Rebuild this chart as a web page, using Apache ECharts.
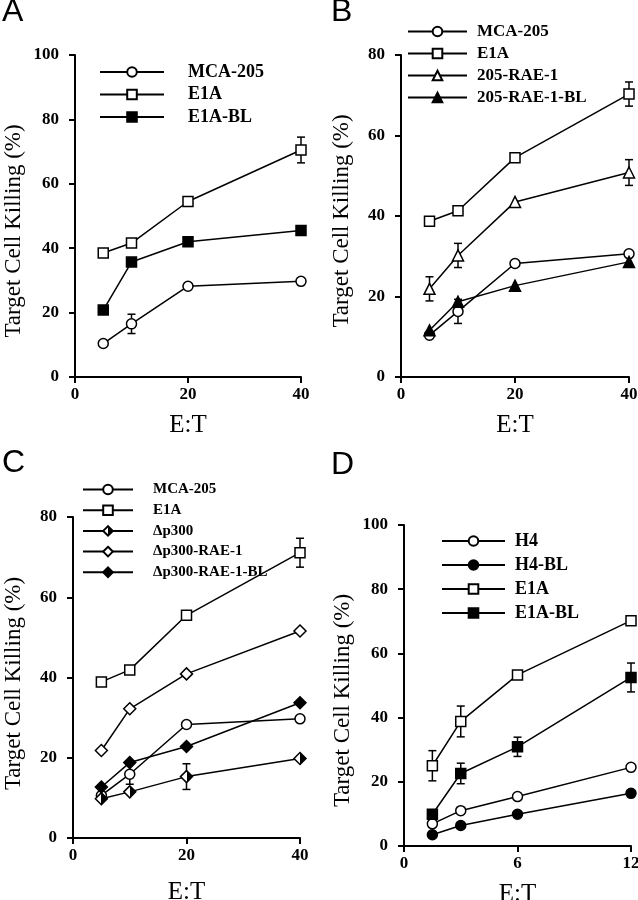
<!DOCTYPE html>
<html><head><meta charset="utf-8">
<script src="https://cdn.jsdelivr.net/npm/echarts@6/dist/echarts.min.js"></script>
<style>html,body{margin:0;padding:0;background:#fff}#c{width:638px;height:900px}</style>
</head><body><div id="c"></div>
<script>
// ---- Data ----
const etABC = [5, 10, 20, 40];
const etD = [1.5, 3, 6, 12];
const xTicksABC = [0, 20, 40];
const xTicksD = [0, 6, 12];

// Panel A
const a_mca = [10.4, 16.5, 28.2, 29.7];
const a_mca_err = [0, 3, 0, 0];
const a_e1a = [38.5, 41.6, 54.5, 70.5];
const a_e1a_err = [0, 0, 0, 4];
const a_e1abl = [20.8, 35.7, 42.0, 45.5];

// Panel B
const b_mca = [10.4, 16.3, 28.2, 30.6];
const b_mca_err = [0, 3, 0, 0];
const b_e1a = [38.7, 41.3, 54.5, 70.3];
const b_e1a_err = [0, 0, 0, 3];
const b_rae = [21.9, 30.2, 43.5, 50.8];
const b_rae_err = [3, 3, 0, 3.2];
const b_raebl = [11.6, 18.7, 22.7, 28.6];

// Panel C
const c_mca = [10.6, 15.9, 28.3, 29.7];
const c_mca_err = [0, 2.5, 0, 0];
const c_e1a = [38.9, 41.9, 55.5, 71.1];
const c_e1a_err = [0, 0, 0, 3.6];
const c_dp = [9.8, 11.5, 15.3, 19.8];
const c_dp_err = [0, 0, 3.2, 0];
const c_dprae = [21.8, 32.2, 40.9, 51.6];
const c_dpraebl = [12.7, 18.8, 22.8, 33.7];

// Panel D
const d_h4 = [6.9, 11.0, 15.4, 24.5];
const d_h4bl = [3.5, 6.4, 9.9, 16.4];
const d_e1a = [25.0, 38.8, 53.3, 70.2];
const d_e1a_err = [4.7, 4.8, 0, 0];
const d_e1abl = [9.9, 22.6, 30.9, 52.5];
const d_e1abl_err = [0, 3.2, 3.0, 4.5];

// ---- Styles ----
const halfFill = {type:'linear', x:0, y:0, x2:1, y2:0, colorStops:[
  {offset:0, color:'#fff'}, {offset:0.5, color:'#fff'}, {offset:0.5, color:'#000'}, {offset:1, color:'#000'}]};
const styles = {
  'MCA-205': {symbol:'circle', fill:'#fff', size:10},
  'E1A': {symbol:'rect', fill:'#fff', size:10},
  'E1A-BL': {symbol:'rect', fill:'#000', size:10},
  '205-RAE-1': {symbol:'triangle', fill:'#fff', size:11},
  '205-RAE-1-BL': {symbol:'triangle', fill:'#000', size:11},
  'Δp300': {symbol:'diamond', fill:halfFill, size:12},
  'Δp300-RAE-1': {symbol:'diamond', fill:'#fff', size:12},
  'Δp300-RAE-1-BL': {symbol:'diamond', fill:'#000', size:12},
  'H4': {symbol:'circle', fill:'#fff', size:10},
  'H4-BL': {symbol:'circle', fill:'#000', size:10}
};

function lineSeries(gi, name, xs, ys) {
  const s = styles[name];
  return {
    type:'line', name, xAxisIndex:gi, yAxisIndex:gi, z:3,
    data: xs.map((x, i) => [x, ys[i]]),
    symbol:s.symbol, symbolSize:s.size, showAllSymbol:true, clip:false,
    lineStyle:{color:'#000', width:1.5},
    itemStyle:{color:s.fill, borderColor:'#000', borderWidth:1.5}
  };
}
function errSeries(gi, xs, ys, es) {
  const data = [];
  xs.forEach((x, i) => { if (es[i] > 0) data.push([x, ys[i] - es[i], ys[i] + es[i]]); });
  return {
    type:'custom', xAxisIndex:gi, yAxisIndex:gi, z:2, clip:false, silent:true,
    data, encode:{x:0, y:[1, 2]},
    renderItem: (params, api) => {
      const lo = api.coord([api.value(0), api.value(1)]);
      const hi = api.coord([api.value(0), api.value(2)]);
      const w = 4, st = {stroke:'#000', lineWidth:1.5};
      return {type:'group', children:[
        {type:'line', shape:{x1:lo[0], y1:lo[1], x2:hi[0], y2:hi[1]}, style:st},
        {type:'line', shape:{x1:lo[0]-w, y1:lo[1], x2:lo[0]+w, y2:lo[1]}, style:st},
        {type:'line', shape:{x1:hi[0]-w, y1:hi[1], x2:hi[0]+w, y2:hi[1]}, style:st}
      ]};
    }
  };
}

const tickFont = {color:'#000', fontFamily:'Liberation Serif', fontWeight:'bold', fontSize:17};
function xAxis(gi, ticks, nameGap) {
  return {
    type:'value', gridIndex:gi, min:ticks[0], max:ticks[ticks.length-1], interval:ticks[1]-ticks[0],
    axisLine:{show:true, onZero:false, lineStyle:{color:'#000', width:2}},
    axisTick:{show:true, length:6, lineStyle:{color:'#000', width:2}},
    splitLine:{show:false},
    axisLabel:Object.assign({margin:9, showMaxLabel:true, showMinLabel:true}, tickFont),
    name:'E:T', nameLocation:'middle', nameGap,
    nameTextStyle:{color:'#000', fontFamily:'Liberation Serif', fontSize:25}
  };
}
function yAxis(gi, max, nameGap, shift) {
  return {
    type:'value', gridIndex:gi, min:0, max, interval:20,
    axisLine:{show:true, onZero:false, lineStyle:{color:'#000', width:2}},
    axisTick:{show:true, length:6, lineStyle:{color:'#000', width:2}},
    splitLine:{show:false},
    axisLabel:Object.assign({margin:16}, tickFont),
    name:'Target Cell Killing (%)', nameLocation:'middle', nameGap,
    nameTextStyle:{color:'#000', fontFamily:'Liberation Serif', fontSize:23, padding:[0, shift, 0, 0]}
  };
}
function legend(names, left, top, fontSize, gap, itemWidth, textPad) {
  return {
    data:names, orient:'vertical', left, top, padding:0, itemGap:gap,
    itemWidth, itemHeight:12, selectedMode:false,
    lineStyle:{width:2},
    textStyle:{color:'#000', fontFamily:'Liberation Serif', fontWeight:'bold', fontSize, lineHeight:fontSize, padding:[0,0,0,textPad]}
  };
}

const option = {
  animation:false,
  backgroundColor:'#fff',
  grid:[
    {left:75, top:55, width:226, height:322, outerBoundsMode:'none', containLabel:false},
    {left:401, top:55, width:228, height:322, outerBoundsMode:'none', containLabel:false},
    {left:73, top:517, width:227, height:321, outerBoundsMode:'none', containLabel:false},
    {left:404, top:525, width:227, height:321, outerBoundsMode:'none', containLabel:false}
  ],
  xAxis:[xAxis(0, xTicksABC, 36), xAxis(1, xTicksABC, 36), xAxis(2, xTicksABC, 42), xAxis(3, xTicksD, 36)],
  yAxis:[yAxis(0, 100, 50, 30), yAxis(1, 80, 48, 10), yAxis(2, 80, 48, 12), yAxis(3, 100, 50, 30)],
  legend:[
    legend(['MCA-205', 'E1A', 'E1A-BL'], 99, 63, 18, 4.5, 64, 19),
    legend(['MCA-205', 'E1A', '205-RAE-1', '205-RAE-1-BL'], 407, 23, 17, 5, 59, 5),
    legend(['MCA-205', 'E1A', 'Δp300', 'Δp300-RAE-1', 'Δp300-RAE-1-BL'], 82, 482, 15, 5.7, 50, 15),
    legend(['H4', 'H4-BL', 'E1A', 'E1A-BL'], 441, 532, 18, 6, 63, 5)
  ],
  graphic:[
    {type:'text', left:2, top:-4, style:{text:'A', font:'32px "Liberation Sans"', fill:'#000'}},
    {type:'text', left:331, top:-4, style:{text:'B', font:'32px "Liberation Sans"', fill:'#000'}},
    {type:'text', left:2, top:447, style:{text:'C', font:'32px "Liberation Sans"', fill:'#000'}},
    {type:'text', left:331, top:449, style:{text:'D', font:'32px "Liberation Sans"', fill:'#000'}}
  ],
  series:[
    errSeries(0, etABC, a_mca, a_mca_err),
    errSeries(0, etABC, a_e1a, a_e1a_err),
    lineSeries(0, 'MCA-205', etABC, a_mca),
    lineSeries(0, 'E1A', etABC, a_e1a),
    lineSeries(0, 'E1A-BL', etABC, a_e1abl),

    errSeries(1, etABC, b_mca, b_mca_err),
    errSeries(1, etABC, b_e1a, b_e1a_err),
    errSeries(1, etABC, b_rae, b_rae_err),
    lineSeries(1, 'MCA-205', etABC, b_mca),
    lineSeries(1, 'E1A', etABC, b_e1a),
    lineSeries(1, '205-RAE-1', etABC, b_rae),
    lineSeries(1, '205-RAE-1-BL', etABC, b_raebl),

    errSeries(2, etABC, c_mca, c_mca_err),
    errSeries(2, etABC, c_e1a, c_e1a_err),
    errSeries(2, etABC, c_dp, c_dp_err),
    lineSeries(2, 'MCA-205', etABC, c_mca),
    lineSeries(2, 'E1A', etABC, c_e1a),
    lineSeries(2, 'Δp300', etABC, c_dp),
    lineSeries(2, 'Δp300-RAE-1', etABC, c_dprae),
    lineSeries(2, 'Δp300-RAE-1-BL', etABC, c_dpraebl),

    errSeries(3, etD, d_e1a, d_e1a_err),
    errSeries(3, etD, d_e1abl, d_e1abl_err),
    lineSeries(3, 'H4', etD, d_h4),
    lineSeries(3, 'H4-BL', etD, d_h4bl),
    lineSeries(3, 'E1A', etD, d_e1a),
    lineSeries(3, 'E1A-BL', etD, d_e1abl)
  ]
};
const chart = echarts.init(document.getElementById('c'), null, {renderer:'canvas'});
chart.setOption(option);
</script>
</body></html>
